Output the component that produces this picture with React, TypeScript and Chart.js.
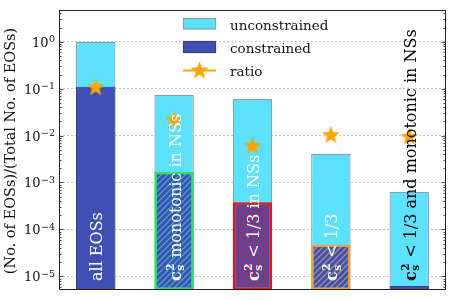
import React, { useEffect, useRef } from "react";
import { Chart, registerables } from "chart.js";

Chart.register(...registerables);

// ---------- data ----------
const categories = [
  "all EOSs",
  "c_s^2 monotonic in NSs",
  "c_s^2 < 1/3 in NSs",
  "c_s^2 < 1/3",
  "c_s^2 < 1/3 and monotonic in NSs",
];
const barLabelHasCs2 = [false, true, true, true, true];
const barLabelRest = ["all EOSs", " monotonic in NSs", " < 1/3 in NSs", " < 1/3", " < 1/3 and monotonic in NSs"];
const unconstrained = [1, 0.074, 0.0605, 0.0041, 0.00063];
const constrained = [0.11, 0.0017, 0.00038, 0.000048, 0.0000062];
const ratio = [0.11, 0.022, 0.0061, 0.0105, 0.0097];
const yTickValues = [1e-5, 1e-4, 1e-3, 1e-2, 1e-1, 1];
const yTickExponents = ["\u22125", "\u22124", "\u22123", "\u22122", "\u22121", "0"];
const legendLabels = ["unconstrained", "constrained", "ratio"];
const yAxisTitle = "(No. of EOSs)/(Total No. of EOSs)";

// ---------- styles ----------
const FONT = '"DejaVu Serif", serif';
const CYAN = "#5CE1FF";
const CYAN_EDGE = "#8A9CA8";
const BLUE = "#3F4FB4";
const ORANGE = "#FFA500";
const barLabelColors = ["#ffffff", "#ffffff", "#ffffff", "#ffffff", "#000000"];
const constrainedEdge = ["#3a3f7a", "#2EE05C", "#F01010", "#F5A030", "#3a3f7a"];
const constrainedEdgeWidth = [1, 2.5, 2.5, 2.5, 1];
const constrainedHatch = [null, "rgba(60,200,200,0.75)", "rgba(235,20,30,0.9)", "rgba(190,160,110,0.8)", null];

function makeStar(r: number, color: string) {
  const c = document.createElement("canvas");
  const s = Math.ceil(r * 2 + 2);
  c.width = s;
  c.height = s;
  const ctx = c.getContext("2d")!;
  ctx.beginPath();
  const inner = r * 0.42;
  for (let k = 0; k < 10; k++) {
    const rad = k % 2 === 0 ? r : inner;
    const a = -Math.PI / 2 + (k * Math.PI) / 5;
    const px = s / 2 + rad * Math.cos(a);
    const py = s / 2 + 0.8 + rad * Math.sin(a);
    if (k === 0) ctx.moveTo(px, py);
    else ctx.lineTo(px, py);
  }
  ctx.closePath();
  ctx.fillStyle = color;
  ctx.fill();
  return c;
}

function makeHatch(bg: string, line: string | null) {
  if (!line) return bg;
  const s = 6;
  const c = document.createElement("canvas");
  c.width = s;
  c.height = s;
  const ctx = c.getContext("2d")!;
  ctx.fillStyle = bg;
  ctx.fillRect(0, 0, s, s);
  ctx.strokeStyle = line;
  ctx.lineWidth = 1.3;
  ctx.beginPath();
  ctx.moveTo(-1, s + 1);
  ctx.lineTo(s + 1, -1);
  ctx.moveTo(-1, 1);
  ctx.lineTo(1, -1);
  ctx.moveTo(s - 1, s + 1);
  ctx.lineTo(s + 1, s - 1);
  ctx.stroke();
  return ctx.createPattern(c, "repeat") as any;
}

export default function App() {
  const ref = useRef<HTMLCanvasElement>(null);

  useEffect(() => {
    document.body.style.margin = "0";
    const canvas = ref.current!;
    const star = makeStar(9.5, ORANGE);

    const overlay = {
      id: "overlay",
      afterDraw(chart: any) {
        const ctx: CanvasRenderingContext2D = chart.ctx;
        const area = chart.chartArea;
        const y = chart.scales.y;
        ctx.save();

        // bar labels
        const meta = chart.getDatasetMeta(0);
        categories.forEach((_, i) => {
          const el = meta.data[i];
          ctx.save();
          ctx.translate(el.x + 6.5, area.bottom - 9);
          ctx.rotate(-Math.PI / 2);
          ctx.fillStyle = barLabelColors[i];
          ctx.textAlign = "left";
          ctx.textBaseline = "alphabetic";
          let cx = 0;
          if (barLabelHasCs2[i]) {
            ctx.font = `bold 16px ${FONT}`;
            ctx.fillText("c", 0, 0);
            cx = ctx.measureText("c").width;
            ctx.font = `bold 10.5px ${FONT}`;
            ctx.fillText("2", cx + 0.5, -7);
            ctx.fillText("s", cx + 0.5, 3.5);
            cx += Math.max(ctx.measureText("2").width, ctx.measureText("s").width) + 1;
          }
          ctx.font = `16px ${FONT}`;
          ctx.fillText(barLabelRest[i], cx, 0);
          ctx.restore();
        });

        // frame
        ctx.strokeStyle = "#222";
        ctx.lineWidth = 1;
        ctx.strokeRect(area.left + 0.5, area.top + 0.5, area.right - area.left - 1, area.bottom - area.top - 1);

        // inward ticks left & right
        ctx.lineWidth = 0.8;
        const eMin = Math.floor(Math.log10(y.min));
        const eMax = Math.ceil(Math.log10(y.max));
        for (let e = eMin; e <= eMax; e++) {
          for (let k = 1; k <= 9; k++) {
            const v = k * Math.pow(10, e);
            if (v < y.min || v > y.max) continue;
            const py = Math.round(y.getPixelForValue(v)) + 0.5;
            const len = k === 1 ? 4.5 : 2.5;
            ctx.beginPath();
            ctx.moveTo(area.left, py);
            ctx.lineTo(area.left + len, py);
            ctx.moveTo(area.right, py);
            ctx.lineTo(area.right - len, py);
            ctx.stroke();
          }
        }

        // tick labels
        ctx.fillStyle = "#111";
        ctx.textBaseline = "alphabetic";
        yTickValues.forEach((v, i) => {
          const py = y.getPixelForValue(v);
          const xEnd = area.left - 4;
          ctx.font = `9.5px ${FONT}`;
          const ew = ctx.measureText(yTickExponents[i]).width;
          ctx.textAlign = "left";
          ctx.fillText(yTickExponents[i], xEnd - ew, py + 0.5);
          ctx.font = `13px ${FONT}`;
          ctx.textAlign = "right";
          ctx.fillText("10", xEnd - ew - 0.5, py + 5);
        });

        // y axis title
        ctx.save();
        ctx.translate(11, (area.top + area.bottom) / 2 + 1);
        ctx.rotate(-Math.PI / 2);
        ctx.font = `14.5px ${FONT}`;
        ctx.textAlign = "center";
        ctx.textBaseline = "middle";
        ctx.fillText(yAxisTitle, 0, 0);
        ctx.restore();

        // legend
        const lx = 183;
        const lw = 33;
        ctx.fillStyle = CYAN;
        ctx.fillRect(lx, 18, lw, 11);
        ctx.strokeStyle = CYAN_EDGE;
        ctx.lineWidth = 1.2;
        ctx.strokeRect(lx + 0.5, 18.5, lw - 1, 10.5);
        ctx.fillStyle = BLUE;
        ctx.fillRect(lx, 41, lw, 11.5);
        ctx.strokeStyle = "#3a3f7a";
        ctx.strokeRect(lx + 0.5, 41.5, lw - 1, 11);
        ctx.strokeStyle = ORANGE;
        ctx.lineWidth = 2;
        ctx.beginPath();
        ctx.moveTo(lx, 70.5);
        ctx.lineTo(lx + lw, 70.5);
        ctx.stroke();
        ctx.drawImage(star, lx + lw / 2 - star.width / 2, 70 - star.height / 2);
        ctx.fillStyle = "#111";
        ctx.font = `13.5px ${FONT}`;
        ctx.textAlign = "left";
        ctx.textBaseline = "alphabetic";
        ctx.fillText(legendLabels[0], 230, 29.5);
        ctx.fillText(legendLabels[1], 230, 52.5);
        ctx.fillText(legendLabels[2], 230, 75.5);

        ctx.restore();
      },
    };

    const chart = new Chart(canvas, {
      type: "bar",
      data: {
        datasets: [
          {
            label: legendLabels[0],
            data: unconstrained.map((v, i) => ({ x: i, y: v })),
            backgroundColor: CYAN,
            borderColor: CYAN_EDGE,
            borderWidth: 1.2,
            borderSkipped: false,
            grouped: false,
            barPercentage: 0.503,
            categoryPercentage: 1,
            order: 2,
          } as any,
          {
            label: legendLabels[1],
            data: constrained.map((v, i) => ({ x: i, y: v })),
            backgroundColor: constrainedHatch.map((h) => makeHatch(BLUE, h)),
            borderColor: constrainedEdge,
            borderWidth: constrainedEdgeWidth,
            borderSkipped: false,
            grouped: false,
            barPercentage: 0.503,
            categoryPercentage: 1,
            order: 1,
          } as any,
          {
            type: "line",
            label: legendLabels[2],
            data: ratio.map((v, i) => ({ x: i, y: v })),
            showLine: false,
            pointStyle: star,
            pointRadius: 9,
            order: 0,
          } as any,
        ],
      },
      options: {
        responsive: false,
        animation: false,
        devicePixelRatio: 1,
        layout: { padding: { left: 0, right: 4, top: 3, bottom: 4 } },
        plugins: { legend: { display: false }, tooltip: { enabled: false } },
        scales: {
          x: {
            type: "linear",
            display: false,
            min: -0.4686,
            max: 4.469,
            offset: false,
          },
          y: {
            type: "logarithmic",
            min: 5.12e-6,
            max: 4.74,
            afterFit: (s: any) => {
              s.width = 59;
            },
            afterBuildTicks: (s: any) => {
              s.ticks = yTickValues.map((v) => ({ value: v }));
            },
            ticks: { display: false },
            grid: { color: "#b5b5b5", lineWidth: 0.8, drawTicks: false, tickLength: 0 },
            border: { display: false, dash: [2, 2] },
          },
        },
      } as any,
      plugins: [overlay],
    });

    return () => chart.destroy();
  }, []);

  return (
    <div style={{ width: 456, height: 300 }}>
      <canvas ref={ref} width={456} height={300} style={{ display: "block" }} />
    </div>
  );
}
